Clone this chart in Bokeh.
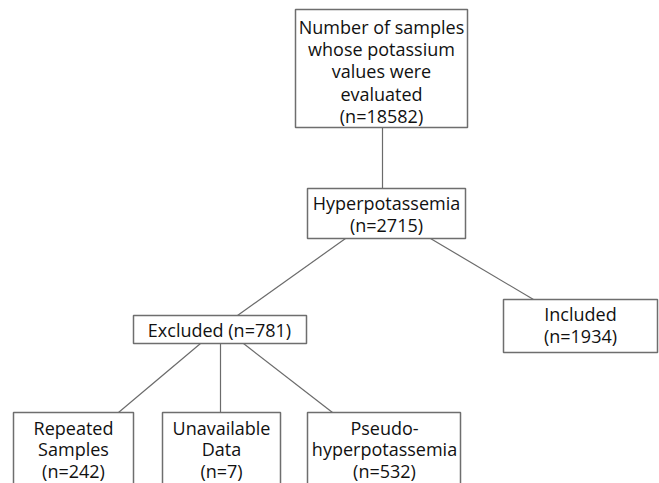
from bokeh.plotting import figure
from bokeh.models import Range1d, ColumnDataSource
from bokeh.core.properties import value
from bokeh.embed import file_html
from bokeh.resources import INLINE

# ---- data ----
node_titles = [
    ["Number of samples", "whose potassium", "values were", "evaluated"],
    ["Hyperpotassemia"],
    ["Excluded"],
    ["Included"],
    ["Repeated", "Samples"],
    ["Unavailable", "Data"],
    ["Pseudo-", "hyperpotassemia"],
]
node_counts = [18582, 2715, 781, 1934, 242, 7, 532]
count_inline = [False, False, True, False, False, False, False]

# ---- layout (reference pixel space) ----
boxes = [  # left, top, right, bottom
    (295, 9, 467, 127),
    (307, 188, 465, 238),
    (133, 315, 306, 343),
    (503, 299, 657, 352),
    (13, 412, 133, 495),
    (162, 412, 280, 495),
    (307, 412, 460, 495),
]
text_x = [381, 386, 219, 580, 73, 221, 384]
first_y = [26, 202, 329, 313, 427, 427, 427]
line_gaps = [22.4, 22.4, 22.4, 22.4, 21.5, 21.5, 21.5]
edge_pts = [
    ((382, 127), (382, 188)),
    ((345, 238), (237, 315)),
    ((430, 238), (533, 299)),
    ((200, 343), (118, 412)),
    ((220, 343), (220, 412)),
    ((243, 343), (332, 412)),
]

W, H = 659, 483
p = figure(width=W, height=H, output_backend="svg", toolbar_location=None,
           x_range=Range1d(0, 659), y_range=Range1d(483, 0),
           min_border=0, outline_line_color=None)
p.axis.visible = False
p.grid.visible = False
p.background_fill_color = "white"

# edges
xs = [[a[0], b[0]] for a, b in edge_pts]
ys = [[a[1], b[1]] for a, b in edge_pts]
p.multi_line(xs=xs, ys=ys, line_color="#6b6b6b", line_width=1.2)

# boxes
p.quad(left=[b[0] for b in boxes], right=[b[2] for b in boxes],
       top=[b[1] for b in boxes], bottom=[b[3] for b in boxes],
       fill_color="white", line_color="#6e6e6e", line_width=1.5)

# texts
tx, ty, tt = [], [], []
for i, lines in enumerate(node_titles):
    lab = list(lines)
    if count_inline[i]:
        lab[-1] = f"{lab[-1]} (n={node_counts[i]})"
    else:
        lab.append(f"(n={node_counts[i]})")
    for k, s in enumerate(lab):
        tx.append(text_x[i])
        ty.append(first_y[i] + k * line_gaps[i])
        tt.append(s)
src = ColumnDataSource(dict(x=tx, y=ty, text=tt))
p.text(x="x", y="y", text="text", source=src, text_align="center",
       text_baseline="middle", text_font=value("Open Sans"),
       text_font_size="18px", text_color="#111111")

open("out.html", "w").write(file_html(p, INLINE))
